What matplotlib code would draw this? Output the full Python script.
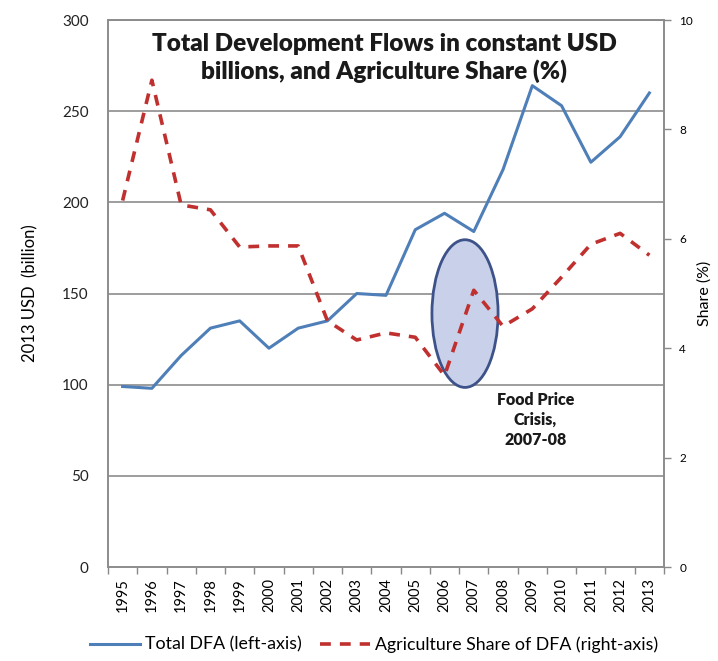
import numpy as np
import matplotlib.pyplot as plt
from matplotlib.patches import Ellipse
from matplotlib.lines import Line2D

years = [str(y) for y in range(1995, 2014)]
total_dfa = [99, 98, 116, 131, 135, 120, 131, 135, 150, 149, 185, 194, 184, 218, 264, 253, 222, 236, 260]
agri_share = [6.7, 8.9, 6.62, 6.53, 5.85, 5.87, 5.87, 4.5, 4.15, 4.28, 4.2, 3.5, 5.06, 4.4, 4.72, 5.3, 5.9, 6.1, 5.7]

blue = "#4f7fb8"
red = "#c0302e"

plt.rcParams['font.family'] = ['Lato', 'DejaVu Sans']

fig = plt.figure(figsize=(7.18, 6.61), dpi=100)
ax = fig.add_axes([0.1504, 0.1422, 0.7744, 0.8275])
ax2 = ax.twinx()

x = np.arange(len(years))

# gridlines from the left axis
for v in range(50, 301, 50):
    ax.axhline(v, color="#8c8c8c", lw=1.2, zorder=0)

ax.plot(x, total_dfa, color=blue, lw=2.2, zorder=3)

# crisis marker
ell = Ellipse((11.7, 139), width=2.26, height=81, facecolor="#c9d1ea",
              edgecolor="#3d5289", lw=2, zorder=2)
ax.add_patch(ell)

ax2.plot(x, agri_share, color=red, lw=2.6, dashes=(3, 2.5), zorder=4)
ax2.set_zorder(ax.get_zorder() + 1)
ax2.patch.set_visible(False)

ax.set_xlim(-0.5, len(years) - 0.5)
ax.set_ylim(0, 300)
ax2.set_ylim(0, 10)

ax.set_yticks(range(0, 301, 50))
ax.tick_params(axis="y", length=0, labelsize=11, pad=14, colors="#222222")
ax.set_xticks(x)
ax.set_xticklabels(years, rotation=90, fontsize=10.5)
ax.set_xticks(np.arange(-0.5, len(years), 1), minor=True)
ax.tick_params(axis="x", which="major", length=0, pad=8)
ax.tick_params(axis="x", which="minor", length=5, width=1, color="#888888")

ax2.set_yticks(range(0, 11, 2))
ax2.tick_params(axis="y", length=5, width=1, color="#888888", labelsize=8.5, pad=6)

for a in (ax, ax2):
    for s in a.spines.values():
        s.set_color("#8c8c8c")
        s.set_linewidth(1.2)

ax.set_ylabel("2013 USD  (billion)", fontsize=12, labelpad=17)
ax2.set_ylabel("Share (%)", fontsize=11.5, labelpad=3)

ax.text(0.497, 0.977, "Total Development Flows in constant USD\nbillions, and Agriculture Share (%)",
        transform=ax.transAxes, ha="center", va="top", fontsize=17.5,
        fontweight="heavy", linespacing=1.25, color="#1a1a1a", zorder=5)

ax.text(14.1, 96, "Food Price\nCrisis,\n2007-08", ha="center", va="top",
        fontsize=11.5, fontweight="heavy", linespacing=1.3, color="#1a1a1a")

handles = [Line2D([], [], color=blue, lw=2.2),
           Line2D([], [], color=red, lw=2.6, dashes=(3, 2.5))]
fig.legend(handles, ["Total DFA (left-axis)", "Agriculture Share of DFA (right-axis)"],
           loc="center", bbox_to_anchor=(0.521, 0.025), ncol=2, frameon=False,
           fontsize=12.8, handlelength=2.8, handletextpad=0.3, columnspacing=1.0)

fig.savefig("out.png", dpi=100)
